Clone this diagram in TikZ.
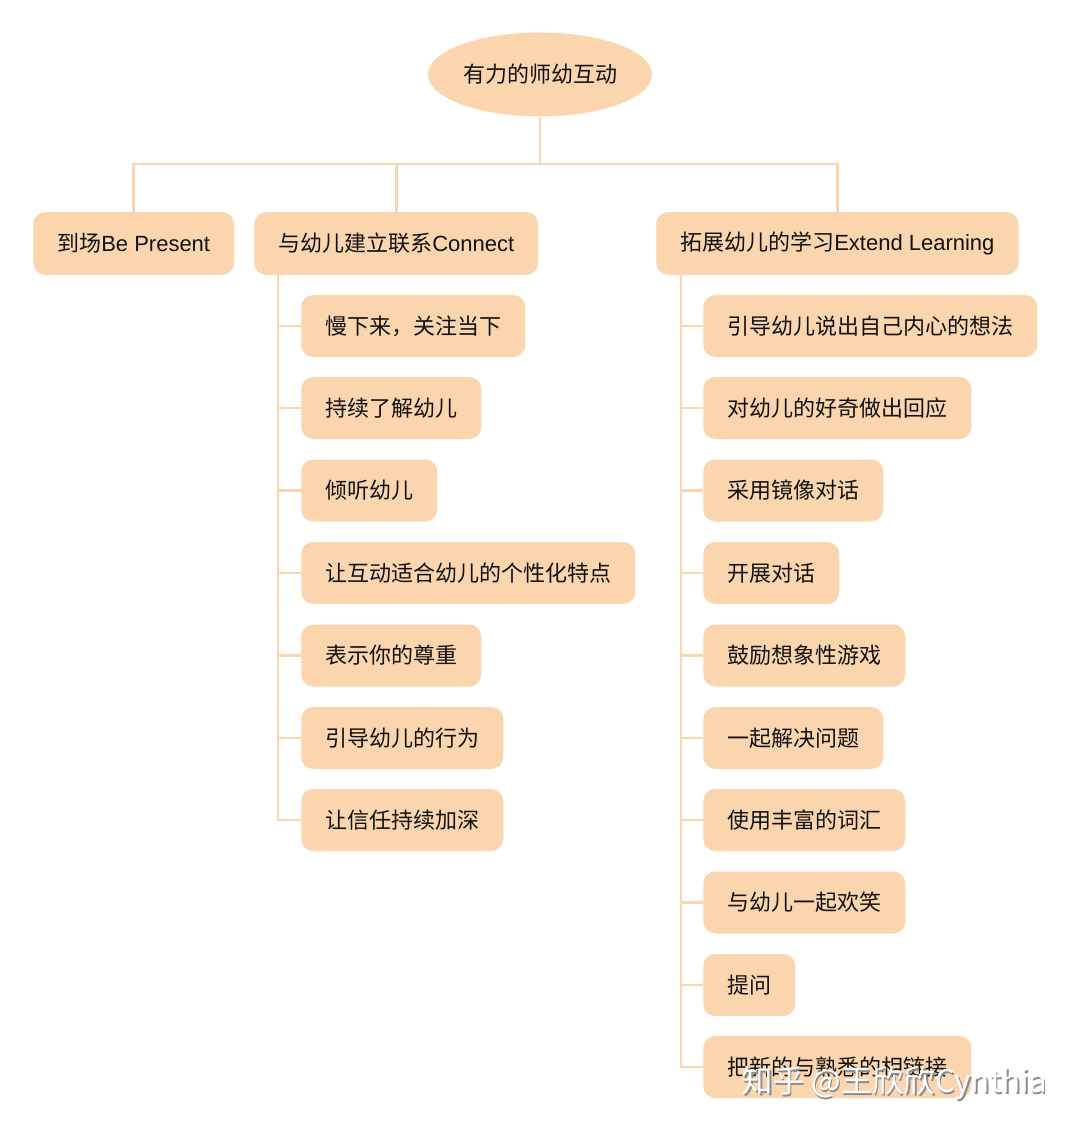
\documentclass[tikz,border=0pt]{standalone}
\usepackage{fontspec}
\setmainfont{Liberation Sans}
\newfontfamily\cjk{Noto Sans CJK SC}
\usetikzlibrary{shapes.geometric,calc}
\definecolor{boxfill}{HTML}{FAD5AD}
\definecolor{linecol}{HTML}{F9D6B0}
\definecolor{txt}{HTML}{111111}
\begin{document}
\begin{tikzpicture}[x=0.75pt,y=-0.75pt,
  every node/.style={font=\fontsize{16.5pt}{19pt}\selectfont, text=txt},
  rootnode/.style={ellipse, fill=boxfill, minimum width=168pt, minimum height=63pt, inner sep=0pt},
  topbox/.style={rectangle, rounded corners=9pt, fill=boxfill, minimum height=47pt, inner xsep=18pt, anchor=west},
  leaf/.style={rectangle, rounded corners=9pt, fill=boxfill, minimum height=46.5pt, inner xsep=18pt, anchor=west},
  conn/.style={draw=linecol, line width=2.2pt},
  wmark/.style={font=\cjk\fontsize{23.5pt}{25pt}\selectfont, anchor=west}
]
\useasboundingbox (0,0) rectangle (1080,1131);
\fill[white] (0,0) rectangle (1080,1131);

\node[rootnode] (root) at (540,74.5) {\cjk 有力的师幼互动};

\node[topbox] (b1) at (33,243.5) {{\cjk 到场}Be Present};
\node[topbox] (b2) at (254,243.5) {{\cjk 与幼儿建立联系}Connect};
\node[topbox] (b3) at (656,243.5) {{\cjk 拓展幼儿的学习}Extend Learning};

\coordinate (bar) at (540,164);
\draw[conn] (root.south) -- (bar);
\draw[conn] (bar) -| (b1.north);
\draw[conn] (bar) -| (b2.north);
\draw[conn] (bar) -| (b3.north);

% left children
\foreach \i/\y/\t in {1/326/{慢下来，关注当下},2/408/{持续了解幼儿},3/490.5/{倾听幼儿},4/573/{让互动适合幼儿的个性化特点},5/655.5/{表示你的尊重},6/738/{引导幼儿的行为},7/820/{让信任持续加深}}{
  \node[leaf] (l\i) at (301,\y) {\cjk \t};
}
\coordinate (lt) at ($(b2.south west)+(24,0)$);
\foreach \i in {1,...,7}{
  \draw[conn] (lt) |- (l\i.west);
}

% right children
\foreach \i/\y/\t in {1/326/{引导幼儿说出自己内心的想法},2/408/{对幼儿的好奇做出回应},3/490.5/{采用镜像对话},4/573/{开展对话},5/655.5/{鼓励想象性游戏},6/738/{一起解决问题},7/820/{使用丰富的词汇},8/902.5/{与幼儿一起欢笑},9/985/{提问},10/1067/{把新的与熟悉的相链接}}{
  \node[leaf] (r\i) at (703,\y) {\cjk \t};
}
\coordinate (rt) at ($(b3.south west)+(25,0)$);
\foreach \i in {1,...,10}{
  \draw[conn] (rt) |- (r\i.west);
}

% watermark
\node[wmark, text=black!45] (wmshadow) at (738.5,1084.5) {知乎 @王欣欣Cynthia};
\node[wmark, text=white] (wm) at (737,1083) {知乎 @王欣欣Cynthia};
\end{tikzpicture}
\end{document}
